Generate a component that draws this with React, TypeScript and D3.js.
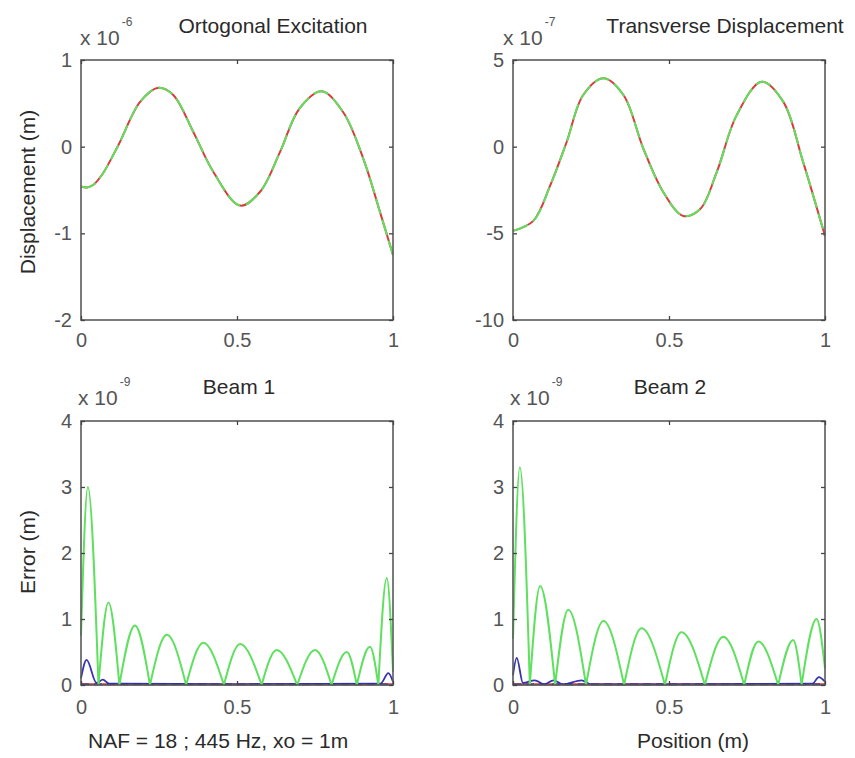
import React, { useEffect, useRef } from 'react';
import * as d3 from 'd3';

// shared x ticks (position, normalised)
const xTicks = [0, 0.5, 1];

// top-left: Ortogonal Excitation (x 1e-6 m)
const tlYTicks = [1, 0, -1, -2];
const tlX = [0, 0.02, 0.04, 0.07, 0.12, 0.19, 0.248, 0.295, 0.36, 0.424, 0.51, 0.574, 0.638, 0.7, 0.771, 0.84, 0.905, 0.958, 1];
const tlY = [-0.46, -0.47, -0.44, -0.31, 0.02, 0.52, 0.68, 0.6, 0.17, -0.29, -0.68, -0.52, -0.06, 0.44, 0.64, 0.4, -0.14, -0.75, -1.25];

// top-right: Transverse Displacement (x 1e-7 m)
const trYTicks = [5, 0, -5, -10];
const trX = [0, 0.065, 0.119, 0.172, 0.225, 0.29, 0.354, 0.418, 0.482, 0.546, 0.6, 0.653, 0.717, 0.797, 0.866, 0.93, 1];
const trY = [-4.86, -4.28, -2.25, 0.27, 2.98, 3.95, 2.98, -0.12, -2.63, -4.0, -3.6, -1.47, 1.82, 3.75, 2.6, -0.89, -5.16];

// bottom plots: error (x 1e-9 m)
const errYTicks = [4, 3, 2, 1, 0];

// Beam 1 - green arches: start of each arch, peak position, peak height
const b1ArchStart = [0, 0.056, 0.123, 0.221, 0.337, 0.458, 0.579, 0.693, 0.803, 0.884, 0.953];
const b1PeakX = [0.022, 0.088, 0.173, 0.275, 0.392, 0.51, 0.627, 0.75, 0.852, 0.926, 0.98];
const b1Peak = [3.0, 1.25, 0.9, 0.76, 0.64, 0.62, 0.53, 0.53, 0.5, 0.58, 1.62];
const b1StartVal = 0.75;
const b1EndVal = 0.2;
const b1BlueX = [0, 0.018, 0.05, 0.07, 0.09, 0.12, 0.5, 0.96, 0.985, 1];
const b1Blue = [0.1, 0.38, 0.03, 0.08, 0.02, 0.02, 0.01, 0.02, 0.18, 0.05];

// Beam 2
const b2ArchStart = [0, 0.054, 0.135, 0.234, 0.356, 0.487, 0.615, 0.741, 0.85, 0.925];
const b2PeakX = [0.022, 0.087, 0.177, 0.29, 0.412, 0.54, 0.674, 0.786, 0.898, 0.973];
const b2Peak = [3.3, 1.5, 1.14, 0.97, 0.86, 0.8, 0.73, 0.66, 0.68, 1.0];
const b2StartVal = 0.7;
const b2EndVal = 0.25;
const b2BlueX = [0, 0.012, 0.032, 0.07, 0.1, 0.13, 0.16, 0.22, 0.25, 0.5, 0.96, 0.98, 1];
const b2Blue = [0.15, 0.41, 0.03, 0.07, 0.01, 0.07, 0.01, 0.07, 0.01, 0.01, 0.02, 0.12, 0.05];

const zeroX = [0, 1];
const zeroY = [0.01, 0.01];

const FONT = '"Liberation Sans", Arial, sans-serif';
const GREEN = '#5fe05f';
const RED = '#d83c3c';
const BLUE = '#3535b0';

const toPts = (xs: number[], ys: number[]) => xs.map((x, i) => [x, ys[i]] as [number, number]);

const arches = (starts: number[], px: number[], pk: number[], v0: number, v1: number) =>
  starts.map((s, i) => {
    const end = i < starts.length - 1 ? starts[i + 1] : 1;
    const a = i === 0 ? v0 : 0;
    const b = i === starts.length - 1 ? v1 : 0;
    return [[s, a], [px[i], pk[i]], [end, b]] as [number, number][];
  });

const panels = [
  {
    left: 81, top: 60, bottom: 320, domain: [-2, 1], yTicks: tlYTicks, labPad: 13,
    title: 'Ortogonal Excitation', titleX: 273, titleY: 33,
    expX: 80, expY: 45, exp: '-6',
    kind: 'disp', x: tlX, y: tlY,
  },
  {
    left: 513, top: 60, bottom: 320, domain: [-10, 5], yTicks: trYTicks, labPad: 13,
    title: 'Transverse Displacement', titleX: 725, titleY: 33,
    expX: 503, expY: 45, exp: '-7',
    kind: 'disp', x: trX, y: trY,
  },
  {
    left: 81, top: 421, bottom: 685, domain: [0, 4], yTicks: errYTicks, labPad: 15,
    title: 'Beam 1', titleX: 239, titleY: 394,
    expX: 78, expY: 405, exp: '-9',
    kind: 'err', arches: arches(b1ArchStart, b1PeakX, b1Peak, b1StartVal, b1EndVal), bx: b1BlueX, by: b1Blue,
  },
  {
    left: 513, top: 421, bottom: 685, domain: [0, 4], yTicks: errYTicks, labPad: 15,
    title: 'Beam 2', titleX: 670, titleY: 394,
    expX: 510, expY: 405, exp: '-9',
    kind: 'err', arches: arches(b2ArchStart, b2PeakX, b2Peak, b2StartVal, b2EndVal), bx: b2BlueX, by: b2Blue,
  },
];

const W = 312;

function drawPanel(svg: any, p: any) {
  const x = d3.scaleLinear().domain([0, 1]).range([p.left, p.left + W]);
  const y = d3.scaleLinear().domain(p.domain).range([p.bottom, p.top]);
  const g = svg.append('g');

  const line = d3.line<[number, number]>().x(d => x(d[0])).y(d => y(d[1]));

  if (p.kind === 'disp') {
    const pts = toPts(p.x, p.y);
    const smooth = line.curve(d3.curveCatmullRom.alpha(0.5));
    g.append('path').attr('d', smooth(pts)).attr('fill', 'none')
      .attr('stroke', RED).attr('stroke-width', 2);
    g.append('path').attr('d', smooth(pts)).attr('fill', 'none')
      .attr('stroke', GREEN).attr('stroke-width', 2).attr('stroke-dasharray', '16 6');
  } else {
    const flat = d3.line<[number, number]>().x(d => x(d[0])).y(d => y(d[1]));
    g.append('path').attr('d', flat(toPts(zeroX, zeroY))).attr('fill', 'none')
      .attr('stroke', RED).attr('stroke-width', 2);
    const mono = d3.line<[number, number]>().x(d => x(d[0])).y(d => y(d[1])).curve(d3.curveMonotoneX);
    g.append('path').attr('d', mono(toPts(p.bx, p.by))).attr('fill', 'none')
      .attr('stroke', BLUE).attr('stroke-width', 1.8);
    g.append('path').attr('d', flat(toPts(zeroX, zeroY))).attr('fill', 'none')
      .attr('stroke', '#2a2a90').attr('stroke-width', 1.6).attr('stroke-dasharray', '8 5');
    const d = p.arches.map((a: [number, number][]) => mono(a)).join('');
    g.append('path').attr('d', d).attr('fill', 'none')
      .attr('stroke', GREEN).attr('stroke-width', 2);
  }

  // frame
  g.append('rect')
    .attr('x', p.left).attr('y', p.top).attr('width', W).attr('height', p.bottom - p.top)
    .attr('fill', 'none').attr('stroke', '#5a5a5a').attr('stroke-width', 1.6);

  const fmt = (d: any) => String(d);
  const styleAxis = (a: any) => {
    a.select('.domain').remove();
    a.selectAll('line').attr('stroke', '#444').attr('stroke-width', 1.3);
    a.selectAll('text').attr('fill', '#555').attr('font-size', 20).attr('font-family', FONT);
  };

  g.append('g').attr('transform', `translate(0,${p.bottom})`)
    .call(d3.axisBottom(x).tickValues(xTicks).tickSize(-4).tickSizeOuter(0).tickPadding(p.labPad).tickFormat(fmt))
    .call(styleAxis);
  g.append('g').attr('transform', `translate(0,${p.top})`)
    .call(d3.axisTop(x).tickValues(xTicks).tickSize(-4).tickSizeOuter(0).tickFormat(() => ''))
    .call(styleAxis);
  g.append('g').attr('transform', `translate(${p.left},0)`)
    .call(d3.axisLeft(y).tickValues(p.yTicks).tickSize(-4).tickSizeOuter(0).tickPadding(9).tickFormat(fmt))
    .call(styleAxis);
  g.append('g').attr('transform', `translate(${p.left + W},0)`)
    .call(d3.axisRight(y).tickValues(p.yTicks).tickSize(-4).tickSizeOuter(0).tickFormat(() => ''))
    .call(styleAxis);

  // title
  g.append('text').attr('x', p.titleX).attr('y', p.titleY).attr('text-anchor', 'middle')
    .attr('font-size', 21).attr('font-family', FONT).attr('fill', '#2a2a2a').text(p.title);

  // exponent
  const e = g.append('text').attr('x', p.expX).attr('y', p.expY)
    .attr('font-family', FONT).attr('fill', '#555');
  e.append('tspan').attr('font-size', 21).text('x 10');
  e.append('tspan').attr('font-size', 12).attr('dy', -19).attr('dx', 2).text(p.exp);
}

function draw(el: SVGSVGElement) {
  const svg = d3.select(el);
  svg.selectAll('*').remove();
  svg.append('rect').attr('width', 855).attr('height', 758).attr('fill', '#fff');

  panels.forEach(p => drawPanel(svg, p));

  // y labels
  svg.append('text').attr('transform', 'translate(35,192) rotate(-90)').attr('text-anchor', 'middle')
    .attr('font-size', 21).attr('font-family', FONT).attr('fill', '#2a2a2a').text('Displacement (m)');
  svg.append('text').attr('transform', 'translate(35,552) rotate(-90)').attr('text-anchor', 'middle')
    .attr('font-size', 21).attr('font-family', FONT).attr('fill', '#2a2a2a').text('Error (m)');

  // bottom labels
  svg.append('text').attr('x', 88).attr('y', 748)
    .attr('font-size', 21).attr('font-family', FONT).attr('fill', '#2a2a2a').text('NAF = 18 ; 445 Hz, xo = 1m');
  svg.append('text').attr('x', 693).attr('y', 748).attr('text-anchor', 'middle')
    .attr('font-size', 21).attr('font-family', FONT).attr('fill', '#2a2a2a').text('Position (m)');
}

const App = () => {
  const ref = useRef<SVGSVGElement>(null);
  useEffect(() => {
    if (ref.current) draw(ref.current);
  }, []);
  return (
    <svg ref={ref} width={855} height={758}
      style={{ position: 'absolute', left: 0, top: 0, display: 'block' }} />
  );
};

export default App;
